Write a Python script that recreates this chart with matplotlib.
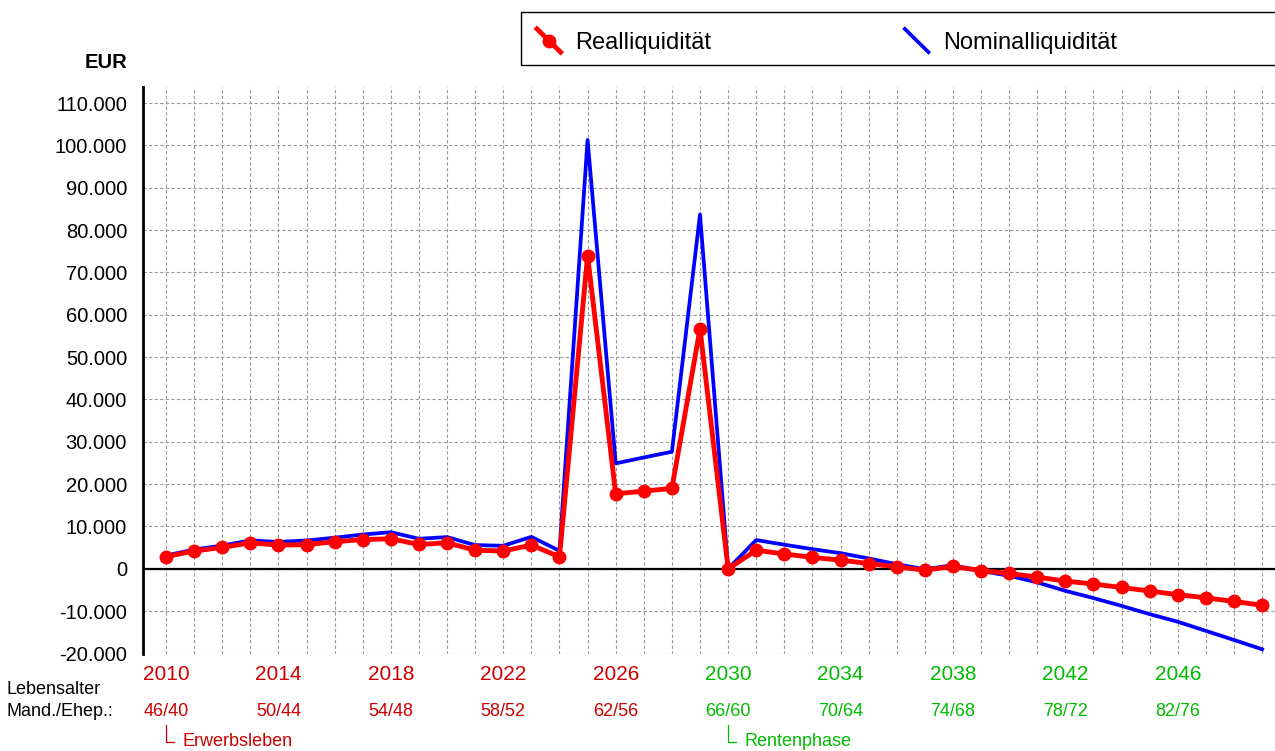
import matplotlib.pyplot as plt
from matplotlib.lines import Line2D
from matplotlib.patches import Rectangle
from matplotlib.legend_handler import HandlerLine2D
from matplotlib.transforms import blended_transform_factory
from matplotlib.ticker import FuncFormatter

plt.rcParams['font.family'] = ['Liberation Sans', 'DejaVu Sans']

years = list(range(2010, 2050))
real = [2900, 4200, 5050, 6150, 5600, 5700, 6400, 6900, 7100, 5750,
        6150, 4400, 4200, 5600, 2850, 74000, 17700, 18350, 19000, 56700,
        0, 4400, 3500, 2700, 2050, 1250, 450, -300, 550, -400,
        -1100, -1950, -2900, -3600, -4400, -5250, -6100, -6850, -7700, -8600]
nominal = [3150, 4550, 5500, 6700, 6350, 6700, 7350, 8100, 8650, 7100,
           7500, 5600, 5450, 7550, 4250, 101300, 24900, 26300, 27650, 83700,
           0, 6800, 5700, 4650, 3700, 2450, 1100, -100, 850, -500,
           -1650, -3200, -5200, -6900, -8750, -10700, -12500, -14650, -16800, -19000]
label_years = [2010, 2014, 2018, 2022, 2026, 2030, 2034, 2038, 2042, 2046]
ages = ['46/40', '50/44', '54/48', '58/52', '62/56', '66/60', '70/64', '74/68', '78/72', '82/76']
retire_year = 2030

RED_TXT = '#cc0000'
GREEN_TXT = '#00bb00'


class DiagHandler(HandlerLine2D):
    # legend handle drawn as a falling diagonal
    def create_artists(self, legend, orig_handle, xdescent, ydescent,
                       width, height, fontsize, trans):
        x0, x1 = -xdescent, -xdescent + width
        y0, y1 = -ydescent + height * 1.05, -ydescent - height * 0.05
        line = Line2D([x0, x1], [y0, y1])
        self.update_prop(line, orig_handle, legend)
        line.set_marker('None')
        line.set_transform(trans)
        out = [line]
        if orig_handle.get_marker() not in ('None', None, ''):
            m = Line2D([(x0 + x1) / 2], [(y0 + y1) / 2])
            self.update_prop(m, orig_handle, legend)
            m.set_linestyle('None')
            m.set_transform(trans)
            out.append(m)
        return out


fig = plt.figure(figsize=(12.75, 7.51), dpi=100)
ax = fig.add_axes([143 / 1275, 1 - 653.5 / 751, 1 - 143 / 1275, (653.5 - 87) / 751])

ln_real, = ax.plot(years, real, color='#ff0000', lw=3.5, marker='o', ms=9,
                   zorder=4, label='Realliquidität')
ln_nom, = ax.plot(years, nominal, color='#0000ff', lw=2.7, zorder=3,
                  label='Nominalliquidität')

ax.axhline(0, color='black', lw=1.6, zorder=2)

ax.set_xlim(2009.18, 2049.46)
ax.set_ylim(-20000, 113800)
ax.set_yticks(range(-20000, 110001, 10000))
ax.yaxis.set_major_formatter(FuncFormatter(lambda v, p: f"{int(v):,}".replace(',', '.')))
ax.set_xticks(years)
ax.set_xticklabels([str(y) if y in label_years else '' for y in years])
for y, lab in zip(years, ax.get_xticklabels()):
    lab.set_color(GREEN_TXT if y >= retire_year else RED_TXT)

ax.tick_params(axis='y', length=0, pad=11.5, labelsize=14.5)
ax.tick_params(axis='x', length=0, pad=8, labelsize=15)

ax.grid(True, color='#999999', linestyle=(0, (3, 2)), lw=0.8)
ax.set_axisbelow(True)
for s in ['top', 'right', 'bottom']:
    ax.spines[s].set_visible(False)
ax.spines['left'].set_linewidth(2)
ax.spines['left'].set_color('black')

fig.text(127 / 1275, 1 - 63 / 751, 'EUR', ha='right', va='center',
         fontsize=14.5, fontweight='bold')

# age row
fig.text(7 / 1275, 1 - 689 / 751, 'Lebensalter', ha='left', va='center', fontsize=13)
fig.text(7 / 1275, 1 - 711 / 751, 'Mand./Ehep.:', ha='left', va='center', fontsize=13)
bt = blended_transform_factory(ax.transData, fig.transFigure)
for y, a in zip(label_years, ages):
    ax.text(y, 1 - 712 / 751, a, transform=bt, ha='center', va='center', fontsize=13,
            color=GREEN_TXT if y >= retire_year else RED_TXT, clip_on=False)

# phase brackets
for y, txt, col in [(2010, 'Erwerbsleben', RED_TXT), (retire_year, 'Rentenphase', GREEN_TXT)]:
    ax.add_line(Line2D([y, y, y + 0.28], [1 - 725 / 751, 1 - 742 / 751, 1 - 742 / 751],
                       transform=bt, color=col, lw=0.9, clip_on=False))
    ax.text(y + 0.57, 1 - 742 / 751, txt, transform=bt, ha='left', va='center',
            fontsize=13, color=col, clip_on=False)

# legend
fig.patches.append(Rectangle((521 / 1275, 1 - 65 / 751), 0.7, 53 / 751,
                             transform=fig.transFigure, fill=False,
                             edgecolor='black', lw=1.0))
fig.legend(handles=[ln_real, ln_nom], loc='upper left',
           bbox_to_anchor=(537 / 1275, 1 - 30 / 751), ncol=2, frameon=False,
           fontsize=17, handlelength=1.0, handleheight=1.0, handletextpad=0.62,
           columnspacing=8.2, borderpad=0, borderaxespad=0,
           handler_map={Line2D: DiagHandler()})

fig.savefig('out.png', dpi=100)
